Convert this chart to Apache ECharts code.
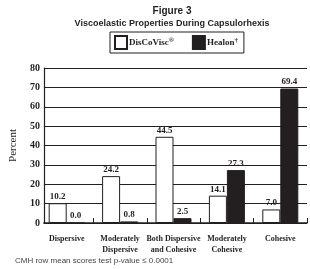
<!DOCTYPE html>
<html>
<head>
<meta charset="utf-8">
<script src="https://cdn.jsdelivr.net/npm/echarts@6/dist/echarts.min.js"></script>
<style>
  html, body { margin: 0; padding: 0; background: #fff; }
  #chart { width: 310px; height: 269px; }
</style>
</head>
<body>
<div id="chart"></div>
<script>
// categories and values
const categories = ['Dispersive', 'Moderately\nDispersive', 'Both Dispersive\nand Cohesive', 'Moderately\nCohesive', 'Cohesive'];
const discoviscValues = [10.2, 24.2, 44.5, 14.1, 7.0];
const healonValues = [0.0, 0.8, 2.5, 27.3, 69.4];
const yTicks = [0, 10, 20, 30, 40, 50, 60, 70, 80];

const serif = '"Liberation Serif", "DejaVu Serif", serif';
const sans = '"Liberation Sans", Arial, sans-serif';
const ink = '#231f20';

const chart = echarts.init(document.getElementById('chart'), null, { renderer: 'canvas' });

const barLabel = {
  show: true,
  position: 'top',
  distance: 2,
  fontFamily: serif,
  fontSize: 9,
  fontWeight: 'bold',
  color: ink,
  formatter: p => p.value.toFixed(1)
};

const option = {
  animation: false,
  backgroundColor: '#fff',
  title: [
    {
      text: 'Figure 3',
      left: 172, top: 6, textAlign: 'center', padding: 0,
      textStyle: { fontFamily: sans, fontSize: 10, fontWeight: 'bold', color: ink }
    },
    {
      text: 'Viscoelastic Properties During Capsulorhexis',
      left: 172, top: 19, textAlign: 'center', padding: 0,
      textStyle: { fontFamily: sans, fontSize: 9, fontWeight: 'bold', color: ink }
    }
  ],
  legend: {
    left: 110, top: 32,
    padding: [3, 6, 3, 4],
    borderColor: ink, borderWidth: 1,
    itemWidth: 12, itemHeight: 13, itemGap: 18,
    icon: 'rect',
    data: ['DisCoVisc', 'Healon'],
    formatter: name => name === 'DisCoVisc' ? 'DisCoVisc{s|®}' : 'Healon{s|†}',
    textStyle: {
      fontFamily: serif, fontSize: 9, fontWeight: 'bold', color: ink, padding: [0, 0, 0, -3],
      rich: { s: { fontFamily: serif, fontSize: 7, fontWeight: 'bold', color: ink, verticalAlign: 'top', padding: [0, 0, 4, 0] } }
    }
  },
  grid: [
    { left: 35, right: 3, top: 68, bottom: 46 },
    { left: 40, right: 3, top: 68, bottom: 46 }
  ],
  xAxis: [
    {
      type: 'category', gridIndex: 0, data: categories,
      axisLine: { lineStyle: { color: ink, width: 1.5 } },
      axisTick: { show: false }, axisLabel: { show: false }
    },
    {
      type: 'category', gridIndex: 1, data: categories,
      axisLine: { show: false },
      axisTick: { show: true, inside: true, length: 5, lineStyle: { color: ink }, interval: (i) => i > 0 },
      axisLabel: {
        interval: 0, margin: 10,
        fontFamily: serif, fontSize: 8, fontWeight: 'bold', color: ink, lineHeight: 11
      }
    }
  ],
  yAxis: [
    {
      type: 'value', gridIndex: 0, min: yTicks[0], max: yTicks[yTicks.length - 1], interval: 10,
      name: 'Percent', nameLocation: 'middle', nameGap: 21, nameRotate: 90,
      nameTextStyle: { fontFamily: serif, fontSize: 11, color: ink },
      axisLine: { show: true, lineStyle: { color: ink, width: 1.2 } },
      axisTick: { show: false },
      axisLabel: { margin: 4, fontFamily: serif, fontSize: 10, fontWeight: 'bold', color: ink },
      splitLine: { show: true, lineStyle: { color: ink, width: 1 } }
    },
    {
      type: 'value', gridIndex: 1, min: 0, max: 80, interval: 10, show: false
    }
  ],
  series: [
    {
      name: 'DisCoVisc', type: 'bar', xAxisIndex: 1, yAxisIndex: 1,
      data: discoviscValues, barWidth: 18, barGap: '0%',
      itemStyle: { color: '#fff', borderColor: ink, borderWidth: 1 },
      label: barLabel
    },
    {
      name: 'Healon', type: 'bar', xAxisIndex: 1, yAxisIndex: 1,
      data: healonValues, barWidth: 18, barGap: '0%',
      itemStyle: { color: ink, borderColor: ink, borderWidth: 1 },
      label: barLabel
    }
  ],
  graphic: [
    {
      type: 'text', left: 15, top: 257,
      style: { text: 'CMH row mean scores test p-value ≤ 0.0001', font: '8px ' + sans, fill: '#444' }
    }
  ]
};

chart.setOption(option);
</script>
</body>
</html>
